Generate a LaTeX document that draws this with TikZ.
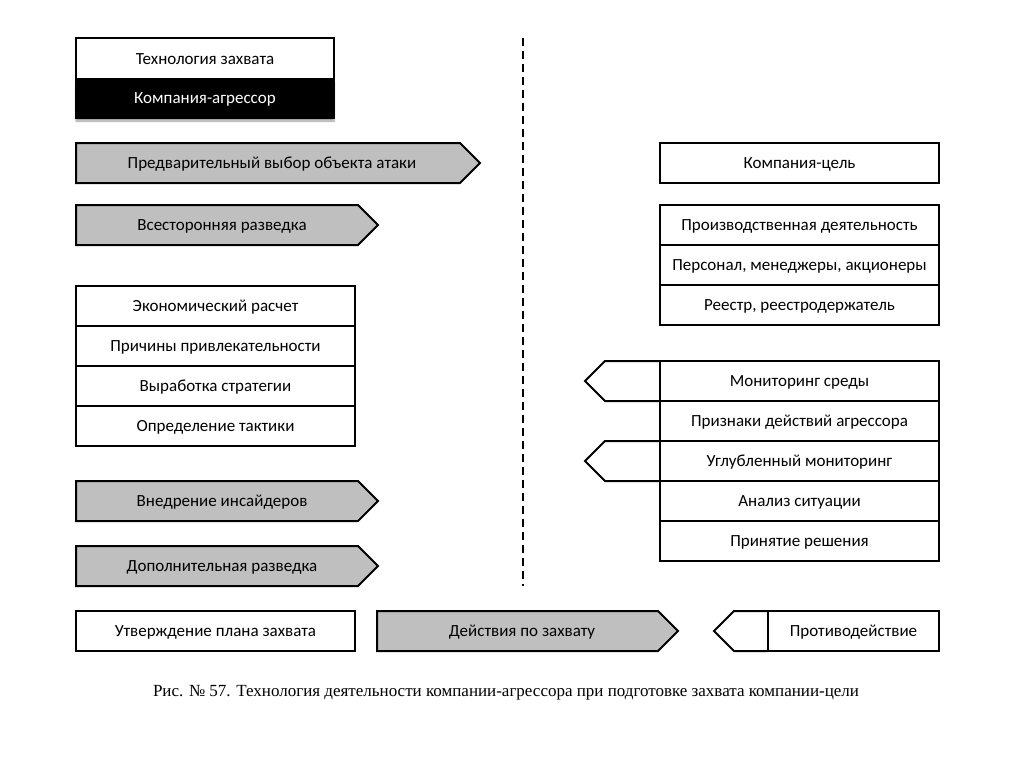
\documentclass[tikz,border=0pt]{standalone}
\usepackage{fontspec}
\setmainfont{Carlito}
\newfontfamily\capfont{Liberation Serif}
\usetikzlibrary{shadows.blur}
\definecolor{arrgray}{RGB}{191,191,191}
\tikzset{
  box/.style={draw=black, line width=2pt, fill=white},
  garrow/.style={draw=black, line width=2pt, fill=arrgray, line join=miter},
  warrow/.style={draw=black, line width=2pt, fill=white, line join=miter},
  lbl/.style={font=\fontsize{17}{20}\selectfont, text=black, yshift=-1pt},
}
\begin{document}
\begin{tikzpicture}[x=1pt,y=-1pt]
\useasboundingbox (0,0) rectangle (1024,768);
% header
\draw[box] (76,38) rectangle (334,79);
\node[lbl] (tz) at (205,58.5) {Технология захвата};
\draw[fill=black, draw=black, line width=2pt, blur shadow={shadow xshift=0pt, shadow yshift=-3pt, shadow blur steps=6, shadow opacity=40}] (76,79) rectangle (334,118);
\node[lbl, text=white] (ka) at (205,98.5) {Компания-агрессор};
% dashed divider
\draw[dashed, line width=2pt, dash pattern=on 8pt off 5pt] (523,38) -- (523,586);
% left arrows
\draw[garrow] (76,143) -- (460,143) -- (480,163) -- (460,183) -- (76,183) -- cycle;
\node[lbl] (a1) at (272,163) {Предварительный выбор объекта атаки};
\draw[garrow] (76,205) -- (358,205) -- (378,225) -- (358,245) -- (76,245) -- cycle;
\node[lbl] (a2) at (222,225) {Всесторонняя разведка};
% left stack
\draw[box] (76,286) rectangle (355,326);
\node[lbl] (s1) at (215.5,306) {Экономический расчет};
\draw[box] (76,326) rectangle (355,366);
\node[lbl] (s2) at (215.5,346) {Причины привлекательности};
\draw[box] (76,366) rectangle (355,406);
\node[lbl] (s3) at (215.5,386) {Выработка стратегии};
\draw[box] (76,406) rectangle (355,446);
\node[lbl] (s4) at (215.5,426) {Определение тактики};
\draw[garrow] (76,481) -- (358,481) -- (378,501) -- (358,521) -- (76,521) -- cycle;
\node[lbl] (a3) at (222,501) {Внедрение инсайдеров};
\draw[garrow] (76,546) -- (358,546) -- (378,566) -- (358,586) -- (76,586) -- cycle;
\node[lbl] (a4) at (222,566) {Дополнительная разведка};
% right
\draw[box] (660,143) rectangle (939,183);
\node[lbl] (kc) at (799.5,163) {Компания-цель};
\draw[box] (660,205) rectangle (939,245);
\node[lbl] (r1) at (799.5,225) {Производственная деятельность};
\draw[box] (660,245) rectangle (939,285);
\node[lbl] (r2) at (799.5,265) {Персонал, менеджеры, акционеры};
\draw[box] (660,285) rectangle (939,325);
\node[lbl] (r3) at (799.5,305) {Реестр, реестродержатель};
% right monitoring stack
\draw[warrow] (660,361) -- (605,361) -- (585,381) -- (605,401) -- (660,401);
\draw[warrow] (660,441) -- (605,441) -- (585,461) -- (605,481) -- (660,481);
\draw[box] (660,361) rectangle (939,401);
\node[lbl] (m1) at (799.5,381) {Мониторинг среды};
\draw[box] (660,401) rectangle (939,441);
\node[lbl] (m2) at (799.5,421) {Признаки действий агрессора};
\draw[box] (660,441) rectangle (939,481);
\node[lbl] (m3) at (799.5,461) {Углубленный мониторинг};
\draw[box] (660,481) rectangle (939,521);
\node[lbl] (m4) at (799.5,501) {Анализ ситуации};
\draw[box] (660,521) rectangle (939,561);
\node[lbl] (m5) at (799.5,541) {Принятие решения};
% bottom row
\draw[box] (76,611) rectangle (355,651);
\node[lbl] (b1) at (215.5,631) {Утверждение плана захвата};
\draw[garrow] (377,611) -- (658,611) -- (678,631) -- (658,651) -- (377,651) -- cycle;
\node[lbl] (b2) at (522,631) {Действия по захвату};
\draw[warrow] (768,611) -- (734,611) -- (714,631) -- (734,651) -- (768,651);
\draw[box] (768,611) rectangle (939,651);
\node[lbl] (b3) at (853.5,631) {Противодействие};
% caption
\node[font=\capfont\fontsize{17}{20}\selectfont] (cap) at (506,693) {Рис. № 57. Технология деятельности компании-агрессора при подготовке захвата компании-цели};
\end{tikzpicture}
\end{document}
